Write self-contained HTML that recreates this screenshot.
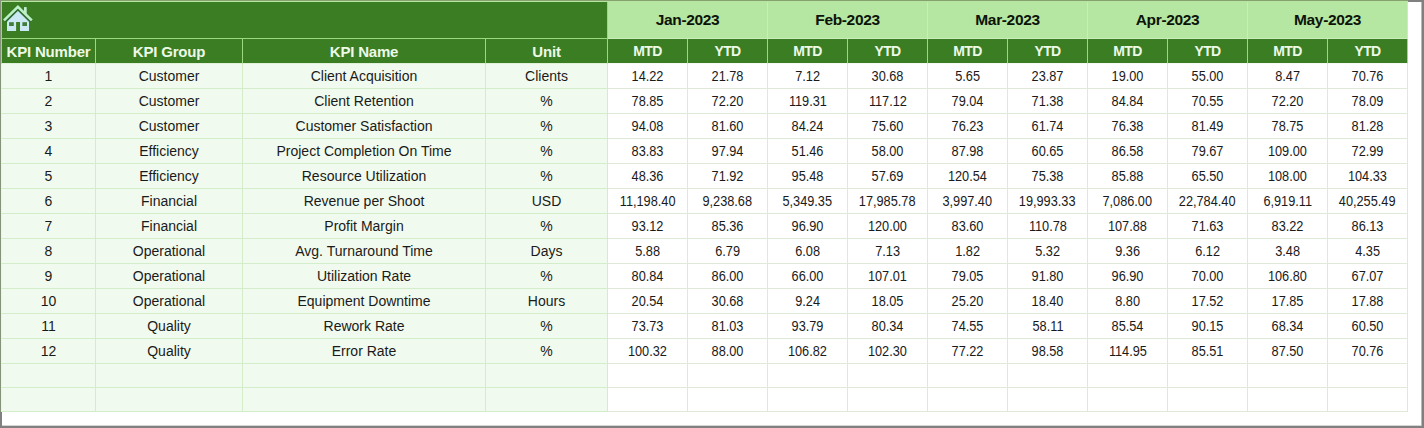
<!DOCTYPE html><html><head><meta charset="utf-8"><title>KPI</title><style>
html,body{margin:0;padding:0;background:#fff;}
body{width:1424px;height:428px;overflow:hidden;position:relative;font-family:"Liberation Sans",sans-serif;}
.frame{position:absolute;left:0;top:0;width:1424px;height:428px;box-sizing:border-box;border-style:solid;border-color:#86a06e #808080 #808080 #84937a;border-width:1px 2px 2px 1px;pointer-events:none;}
.tr{position:absolute;left:1408px;top:0;width:16px;height:2px;background:#808080;}
.bl{position:absolute;left:0;top:412px;width:2px;height:16px;background:#808080;}
.b3{position:absolute;left:2px;top:425px;width:1420px;height:1px;background:#d4d4d4;}
.r3{position:absolute;left:1421px;top:2px;width:1px;height:424px;background:#b8b8b8;}
table{position:absolute;left:1px;top:1px;border-collapse:separate;border-spacing:0;table-layout:fixed;width:1407px;border-top:1px solid #b5e6a2;}
tr>*:first-child{border-left:1px solid #b5e6a2;}
tr.d>td:first-child,tr.e>td:first-child{border-left-color:#e9f6e4;}
td,th{box-sizing:border-box;padding:0;margin:0;text-align:center;vertical-align:middle;overflow:hidden;white-space:nowrap;border-right:1px solid;border-bottom:1px solid;}
tr.h1{height:37px;}
tr.h2{height:25px;}
tr.d{height:25px;}
tr.e{height:24px;}
th.dk{background:#3b7d23;color:#ecf9e6;border-color:#9bd880;font-size:15px;font-weight:bold;letter-spacing:-0.2px;}
th.mo{background:#b5e6a2;color:#0c1408;border-color:#c9edba;font-size:15.5px;font-weight:bold;letter-spacing:-0.35px;padding-bottom:1px;}
th.sub{font-size:14px;letter-spacing:-0.6px;border-color:#9bd880;border-bottom-color:#f6fbf4;}
tr.h2 th.dk{border-bottom-color:#dff2d7;}
tr.h2 th.sub{border-bottom-color:#f6fbf4;}
td.l{background:#f1faee;color:#1a1a1a;border-color:#d3ecc9;font-size:14px;}
td.n{background:#fff;color:#1a1a1a;border-color:#dfe9d8;font-size:14px;}
td.n span{display:inline-block;transform:scaleX(0.91);transform-origin:50% 50%;}
.home{position:absolute;left:0;top:0;width:40px;height:40px;}
</style></head><body>
<table><colgroup><col style="width:95px"><col style="width:147px"><col style="width:243px"><col style="width:122px"><col style="width:80px"><col style="width:80px"><col style="width:80px"><col style="width:80px"><col style="width:80px"><col style="width:80px"><col style="width:80px"><col style="width:80px"><col style="width:80px"><col style="width:80px"></colgroup>
<tr class="h1"><th class="dk" colspan="4"></th><th class="mo" colspan="2">Jan-2023</th><th class="mo" colspan="2">Feb-2023</th><th class="mo" colspan="2">Mar-2023</th><th class="mo" colspan="2">Apr-2023</th><th class="mo" colspan="2">May-2023</th></tr>
<tr class="h2"><th class="dk">KPI Number</th><th class="dk">KPI Group</th><th class="dk">KPI Name</th><th class="dk">Unit</th><th class="dk sub">MTD</th><th class="dk sub">YTD</th><th class="dk sub">MTD</th><th class="dk sub">YTD</th><th class="dk sub">MTD</th><th class="dk sub">YTD</th><th class="dk sub">MTD</th><th class="dk sub">YTD</th><th class="dk sub">MTD</th><th class="dk sub">YTD</th></tr>
<tr class="d"><td class="l">1</td><td class="l">Customer</td><td class="l">Client Acquisition</td><td class="l">Clients</td><td class="n"><span>14.22</span></td><td class="n"><span>21.78</span></td><td class="n"><span>7.12</span></td><td class="n"><span>30.68</span></td><td class="n"><span>5.65</span></td><td class="n"><span>23.87</span></td><td class="n"><span>19.00</span></td><td class="n"><span>55.00</span></td><td class="n"><span>8.47</span></td><td class="n"><span>70.76</span></td></tr>
<tr class="d"><td class="l">2</td><td class="l">Customer</td><td class="l">Client Retention</td><td class="l">%</td><td class="n"><span>78.85</span></td><td class="n"><span>72.20</span></td><td class="n"><span>119.31</span></td><td class="n"><span>117.12</span></td><td class="n"><span>79.04</span></td><td class="n"><span>71.38</span></td><td class="n"><span>84.84</span></td><td class="n"><span>70.55</span></td><td class="n"><span>72.20</span></td><td class="n"><span>78.09</span></td></tr>
<tr class="d"><td class="l">3</td><td class="l">Customer</td><td class="l">Customer Satisfaction</td><td class="l">%</td><td class="n"><span>94.08</span></td><td class="n"><span>81.60</span></td><td class="n"><span>84.24</span></td><td class="n"><span>75.60</span></td><td class="n"><span>76.23</span></td><td class="n"><span>61.74</span></td><td class="n"><span>76.38</span></td><td class="n"><span>81.49</span></td><td class="n"><span>78.75</span></td><td class="n"><span>81.28</span></td></tr>
<tr class="d"><td class="l">4</td><td class="l">Efficiency</td><td class="l">Project Completion On Time</td><td class="l">%</td><td class="n"><span>83.83</span></td><td class="n"><span>97.94</span></td><td class="n"><span>51.46</span></td><td class="n"><span>58.00</span></td><td class="n"><span>87.98</span></td><td class="n"><span>60.65</span></td><td class="n"><span>86.58</span></td><td class="n"><span>79.67</span></td><td class="n"><span>109.00</span></td><td class="n"><span>72.99</span></td></tr>
<tr class="d"><td class="l">5</td><td class="l">Efficiency</td><td class="l">Resource Utilization</td><td class="l">%</td><td class="n"><span>48.36</span></td><td class="n"><span>71.92</span></td><td class="n"><span>95.48</span></td><td class="n"><span>57.69</span></td><td class="n"><span>120.54</span></td><td class="n"><span>75.38</span></td><td class="n"><span>85.88</span></td><td class="n"><span>65.50</span></td><td class="n"><span>108.00</span></td><td class="n"><span>104.33</span></td></tr>
<tr class="d"><td class="l">6</td><td class="l">Financial</td><td class="l">Revenue per Shoot</td><td class="l">USD</td><td class="n"><span>11,198.40</span></td><td class="n"><span>9,238.68</span></td><td class="n"><span>5,349.35</span></td><td class="n"><span>17,985.78</span></td><td class="n"><span>3,997.40</span></td><td class="n"><span>19,993.33</span></td><td class="n"><span>7,086.00</span></td><td class="n"><span>22,784.40</span></td><td class="n"><span>6,919.11</span></td><td class="n"><span>40,255.49</span></td></tr>
<tr class="d"><td class="l">7</td><td class="l">Financial</td><td class="l">Profit Margin</td><td class="l">%</td><td class="n"><span>93.12</span></td><td class="n"><span>85.36</span></td><td class="n"><span>96.90</span></td><td class="n"><span>120.00</span></td><td class="n"><span>83.60</span></td><td class="n"><span>110.78</span></td><td class="n"><span>107.88</span></td><td class="n"><span>71.63</span></td><td class="n"><span>83.22</span></td><td class="n"><span>86.13</span></td></tr>
<tr class="d"><td class="l">8</td><td class="l">Operational</td><td class="l">Avg. Turnaround Time</td><td class="l">Days</td><td class="n"><span>5.88</span></td><td class="n"><span>6.79</span></td><td class="n"><span>6.08</span></td><td class="n"><span>7.13</span></td><td class="n"><span>1.82</span></td><td class="n"><span>5.32</span></td><td class="n"><span>9.36</span></td><td class="n"><span>6.12</span></td><td class="n"><span>3.48</span></td><td class="n"><span>4.35</span></td></tr>
<tr class="d"><td class="l">9</td><td class="l">Operational</td><td class="l">Utilization Rate</td><td class="l">%</td><td class="n"><span>80.84</span></td><td class="n"><span>86.00</span></td><td class="n"><span>66.00</span></td><td class="n"><span>107.01</span></td><td class="n"><span>79.05</span></td><td class="n"><span>91.80</span></td><td class="n"><span>96.90</span></td><td class="n"><span>70.00</span></td><td class="n"><span>106.80</span></td><td class="n"><span>67.07</span></td></tr>
<tr class="d"><td class="l">10</td><td class="l">Operational</td><td class="l">Equipment Downtime</td><td class="l">Hours</td><td class="n"><span>20.54</span></td><td class="n"><span>30.68</span></td><td class="n"><span>9.24</span></td><td class="n"><span>18.05</span></td><td class="n"><span>25.20</span></td><td class="n"><span>18.40</span></td><td class="n"><span>8.80</span></td><td class="n"><span>17.52</span></td><td class="n"><span>17.85</span></td><td class="n"><span>17.88</span></td></tr>
<tr class="d"><td class="l">11</td><td class="l">Quality</td><td class="l">Rework Rate</td><td class="l">%</td><td class="n"><span>73.73</span></td><td class="n"><span>81.03</span></td><td class="n"><span>93.79</span></td><td class="n"><span>80.34</span></td><td class="n"><span>74.55</span></td><td class="n"><span>58.11</span></td><td class="n"><span>85.54</span></td><td class="n"><span>90.15</span></td><td class="n"><span>68.34</span></td><td class="n"><span>60.50</span></td></tr>
<tr class="d"><td class="l">12</td><td class="l">Quality</td><td class="l">Error Rate</td><td class="l">%</td><td class="n"><span>100.32</span></td><td class="n"><span>88.00</span></td><td class="n"><span>106.82</span></td><td class="n"><span>102.30</span></td><td class="n"><span>77.22</span></td><td class="n"><span>98.58</span></td><td class="n"><span>114.95</span></td><td class="n"><span>85.51</span></td><td class="n"><span>87.50</span></td><td class="n"><span>70.76</span></td></tr>
<tr class="e"><td class="l"></td><td class="l"></td><td class="l"></td><td class="l"></td><td class="n"></td><td class="n"></td><td class="n"></td><td class="n"></td><td class="n"></td><td class="n"></td><td class="n"></td><td class="n"></td><td class="n"></td><td class="n"></td></tr>
<tr class="e"><td class="l"></td><td class="l"></td><td class="l"></td><td class="l"></td><td class="n"></td><td class="n"></td><td class="n"></td><td class="n"></td><td class="n"></td><td class="n"></td><td class="n"></td><td class="n"></td><td class="n"></td><td class="n"></td></tr>
</table>
<svg class="home" viewBox="0 0 40 40">
<path d="M17.9 10.2 L7.1 21 L7.1 31 L29 31 L29 21 Z" fill="#cbe9f5"/>
<path d="M5.2 21.6 L17.9 9.1 L30.6 21.6" fill="none" stroke="#2f6c33" stroke-width="2.6"/>
<path d="M7.1 22.6 L7.1 31 L29 31 L29 22.6 Z" fill="#cbe9f5"/>
<rect x="24" y="7.1" width="2.7" height="7" fill="#c0f0cf"/>
<path d="M4 20.4 L17.9 6.8 L31.8 20.4" fill="none" stroke="#bdf0c6" stroke-width="2.6"/>
<rect x="9.1" y="22.2" width="4.7" height="3.8" fill="#3f7d3a"/>
<rect x="22.4" y="22.2" width="4.6" height="3.8" fill="#3f7d3a"/>
<rect x="16.1" y="22" width="3.9" height="9.2" fill="#3b7d23"/>
</svg>
<div class="frame"></div><div class="tr"></div><div class="bl"></div><div class="b3"></div><div class="r3"></div></body></html>
